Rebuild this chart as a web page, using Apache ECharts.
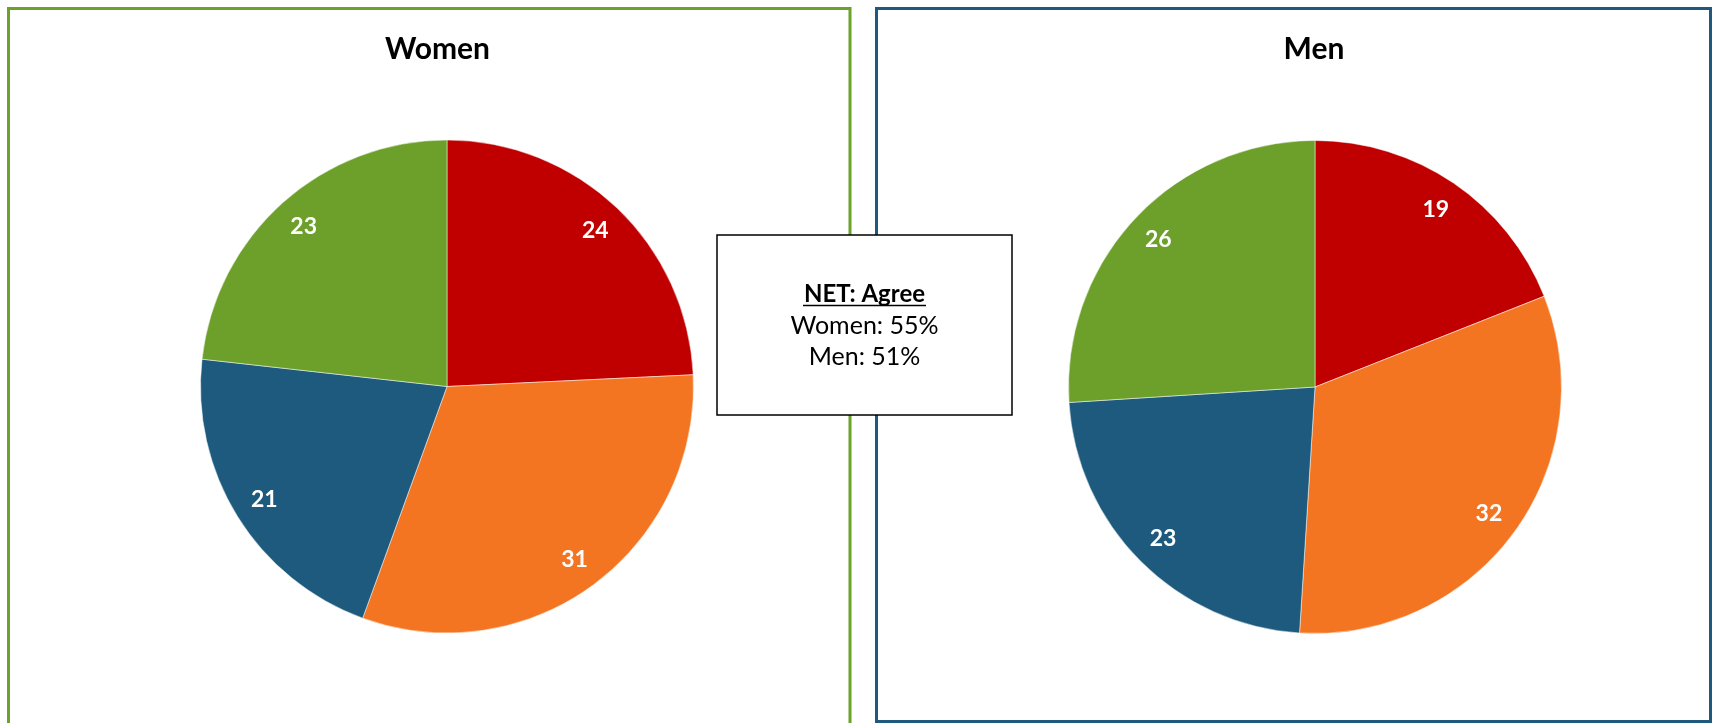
<!DOCTYPE html>
<html>
<head>
<meta charset="utf-8">
<style>
  html, body { margin: 0; padding: 0; background: #ffffff; }
  #chart { width: 1716px; height: 723px; }
</style>
<script src="https://cdn.jsdelivr.net/npm/echarts@6/dist/echarts.min.js"></script>
</head>
<body>
<div id="chart"></div>
<script>
// ---- data ----
const categories = ['Strongly agree', 'Somewhat agree', 'Somewhat disagree', 'Strongly disagree'];
const womenValues = [24, 31, 21, 23];
const menValues = [19, 32, 23, 26];
const panelTitles = ['Women', 'Men'];
const netTitle = 'NET: Agree';
const netLines = ['Women: 55%', 'Men: 51%'];

// ---- style ----
const sliceColors = ['#C00000', '#F47521', '#1D5A7D', '#6CA02A'];
const FONT = 'Lato, "Open Sans", sans-serif';
const R = 246.5;

function toData(values) {
  return values.map((v, i) => ({ name: categories[i], value: v, itemStyle: { color: sliceColors[i] } }));
}
function toLabelData(values) {
  return values.map((v, i) => ({ name: categories[i], value: v }));
}

function pieSeries(center, values) {
  return [
    {
      type: 'pie',
      center: center,
      radius: [0, R],
      startAngle: 90,
      clockwise: true,
      animation: false,
      silent: true,
      label: { show: false },
      labelLine: { show: false },
      itemStyle: { borderColor: '#ffffff', borderWidth: 0.5 },
      emphasis: { disabled: true },
      data: toData(values)
    },
    {
      type: 'pie',
      center: center,
      radius: [R * 0.72, R],
      startAngle: 90,
      clockwise: true,
      animation: false,
      silent: true,
      itemStyle: { color: 'rgba(0,0,0,0)', borderWidth: 0 },
      label: {
        show: true,
        position: 'inside',
        formatter: '{c}',
        color: '#ffffff',
        fontFamily: FONT,
        fontWeight: 'bold',
        fontSize: 23
      },
      labelLine: { show: false },
      emphasis: { disabled: true },
      data: toLabelData(values)
    }
  ];
}

const chart = echarts.init(document.getElementById('chart'), null, { renderer: 'canvas' });

chart.setOption({
  backgroundColor: '#ffffff',
  animation: false,
  graphic: [
    // left panel (green)
    { type: 'rect', z: 1, shape: { x: 8.5, y: 8.5, width: 841.5, height: 740 },
      style: { fill: '#ffffff', stroke: '#6CA22C', lineWidth: 3 } },
    // right panel (blue)
    { type: 'rect', z: 1, shape: { x: 876.5, y: 8.5, width: 834, height: 713 },
      style: { fill: '#ffffff', stroke: '#1F5A7E', lineWidth: 3 } },
    // titles
    { type: 'text', z: 5, x: 437.5, y: 49.5,
      style: { text: panelTitles[0], fill: '#000000', font: 'bold 30px ' + FONT, align: 'center', verticalAlign: 'middle' } },
    { type: 'text', z: 5, x: 1314, y: 49.5,
      style: { text: panelTitles[1], fill: '#000000', font: 'bold 30px ' + FONT, align: 'center', verticalAlign: 'middle' } },
    // center NET box
    { type: 'rect', z: 10, shape: { x: 717, y: 235, width: 295, height: 180 },
      style: { fill: '#ffffff', stroke: '#000000', lineWidth: 1.5 } },
    { type: 'text', z: 11, x: 864.5, y: 294,
      style: { text: netTitle, fill: '#000000', font: 'bold 24px ' + FONT, align: 'center', verticalAlign: 'middle' } },
    { type: 'line', z: 11, shape: { x1: 803, y1: 305.5, x2: 926, y2: 305.5 },
      style: { stroke: '#000000', lineWidth: 1.5 } },
    { type: 'text', z: 11, x: 864.5, y: 326,
      style: { text: netLines[0], fill: '#000000', font: '25px ' + FONT, align: 'center', verticalAlign: 'middle' } },
    { type: 'text', z: 11, x: 864.5, y: 357,
      style: { text: netLines[1], fill: '#000000', font: '25px ' + FONT, align: 'center', verticalAlign: 'middle' } }
  ],
  series: [
    ...pieSeries([447, 386.5], womenValues),
    ...pieSeries([1315, 387], menValues)
  ]
});
</script>
</body>
</html>
